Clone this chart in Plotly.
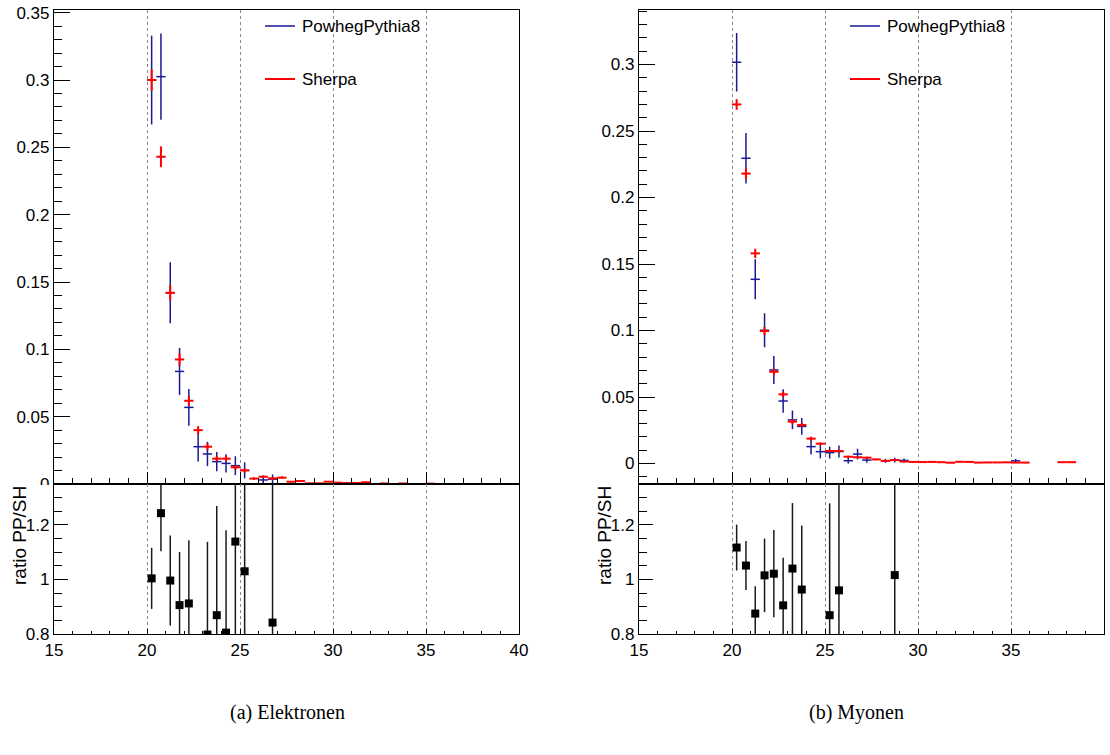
import plotly.graph_objects as go

W, H = 1110, 755

# ---------------- data: electrons (left) ----------------
el_x = [20.25, 20.75, 21.25, 21.75, 22.25, 22.75, 23.25, 23.75, 24.25, 24.75,
        25.25, 25.75, 26.25, 26.75, 27.25, 27.75, 28.25, 28.75, 29.25, 29.75,
        30.25, 30.75, 31.25, 31.75, 32.25, 32.75, 33.25, 33.75, 34.25, 34.75, 35.25]
el_sherpa = [0.300, 0.243, 0.142, 0.0925, 0.0618, 0.040, 0.0277, 0.0188, 0.0188, 0.0124,
             0.0101, 0.0040, 0.0054, 0.0042, 0.0047, 0.0017, 0.0022, 0.0005, 0.0005, 0.0017,
             0.0010, 0.0007, 0.0007, 0.0013, None, 0.0004, None, 0.0004, None, None, 0.0003]
el_sherpa_err = [0.008, 0.0077, 0.0058, 0.0045, 0.0035, 0.003, 0.0025, 0.002, 0.002, 0.0018,
                 0.0015, 0.001, 0.001, 0.001, 0.001, 0.0005, 0.0005, 0.0003, 0.0003, 0.0005,
                 0.0004, 0.0003, 0.0003, 0.0004, None, 0.0002, None, 0.0002, None, None, 0.0002]
el_powheg = [0.300, 0.3025, 0.142, 0.0836, 0.0569, 0.0277, 0.0223, 0.0166, 0.0153, 0.0136,
             0.0101, None, 0.003, 0.0036] + [None] * 17
el_powheg_err = [0.033, 0.032, 0.0227, 0.0175, 0.0137, 0.011, 0.009, 0.0072, 0.0068, 0.007,
                 0.006, None, 0.003, 0.0035] + [None] * 17

el_ratio_x = [20.25, 20.75, 21.25, 21.75, 22.25, 23.25, 23.75, 24.25, 24.75, 25.25, 26.75]
el_ratio = [1.004, 1.243, 0.996, 0.906, 0.912, 0.798, 0.869, 0.805, 1.139, 1.03, 0.842]
el_ratio_err = [0.112, 0.14, 0.165, 0.195, 0.232, 0.34, 0.40, 0.375, 0.5, 0.6, 0.75]

# ---------------- data: muons (right) ----------------
mu_x = [20.25 + 0.5 * i for i in range(37)]
mu_sherpa = [0.270, 0.218, 0.158, 0.0996, 0.069, 0.052, 0.0315, 0.029, 0.0187, 0.0149,
             0.0094, 0.0094, 0.0051, 0.0047, 0.0044, 0.0031, 0.0020, 0.0026, 0.0015, 0.0012,
             0.0011, 0.0012, 0.0010, 0.0006, 0.0013, 0.0012, 0.0007, 0.0008, 0.0008, 0.0009,
             0.0007, 0.0007, None, None, None, 0.0010, 0.0010]
mu_sherpa_err = [0.004, 0.004, 0.0035, 0.003, 0.0025, 0.002, 0.002, 0.0015, 0.0015, 0.001,
                 0.001, 0.001, 0.0008, 0.0008, 0.0007, 0.0006, 0.0005, 0.0005, 0.0004, 0.0003,
                 0.0003, 0.0003, 0.0003, 0.0002, 0.0003, 0.0003, 0.0002, 0.0002, 0.0002, 0.0002,
                 0.0002, 0.0002, None, None, None, 0.0002, 0.0002]
mu_powheg = [0.3017, 0.2295, 0.1385, 0.1002, 0.0703, 0.047, 0.0328, 0.0279, 0.0127, 0.0089,
             0.0082, 0.009, 0.0021, 0.0071, 0.0026, None, 0.0020, 0.0026, 0.0023, None,
             None, None, None, None, None, None, None, None, None, None,
             0.0020, None, None, None, None, None, None]
mu_powheg_err = [0.022, 0.019, 0.015, 0.0128, 0.0106, 0.0088, 0.007, 0.0063, 0.006, 0.005,
                 0.0045, 0.0045, 0.002, 0.004, 0.002, None, 0.0015, 0.0018, 0.0015, None,
                 None, None, None, None, None, None, None, None, None, None,
                 0.0015, None, None, None, None, None, None]

mu_ratio_x = [20.25, 20.75, 21.25, 21.75, 22.25, 22.75, 23.25, 23.75, 25.25, 25.75, 28.75]
mu_ratio = [1.117, 1.051, 0.875, 1.015, 1.021, 0.905, 1.04, 0.963, 0.869, 0.96, 1.016]
mu_ratio_err = [0.084, 0.09, 0.1, 0.135, 0.16, 0.175, 0.24, 0.235, 0.41, 0.55, 0.8]

half_bin = 0.25
BLUE = "rgb(25,25,150)"
RED = "rgb(255,0,0)"
FONT = "Liberation Sans, Arial, sans-serif"

fig = go.Figure()


def add_hist(x, y, err, color, thick, xa, ya):
    fig.add_trace(go.Scatter(
        x=x, y=y, mode="markers", xaxis=xa, yaxis=ya, showlegend=False,
        marker=dict(size=1, color="rgba(0,0,0,0)", line=dict(width=0)),
        error_x=dict(type="constant", value=half_bin, color=color, thickness=thick, width=0),
        error_y=dict(type="data", array=err, color=color, thickness=thick, width=0),
        cliponaxis=True,
    ))


def add_ratio(x, y, err, xa, ya):
    fig.add_trace(go.Scatter(
        x=x, y=y, mode="markers", xaxis=xa, yaxis=ya, showlegend=False,
        marker=dict(symbol="square", size=8, color="black"),
        error_y=dict(type="data", array=err, color="#1a1a1a", thickness=1.5, width=0),
        cliponaxis=True,
    ))


add_hist(el_x, el_powheg, el_powheg_err, BLUE, 1.5, "x", "y")
add_hist(el_x, el_sherpa, el_sherpa_err, RED, 2, "x", "y")
add_ratio(el_ratio_x, el_ratio, el_ratio_err, "x2", "y2")
add_hist(mu_x, mu_powheg, mu_powheg_err, BLUE, 1.5, "x3", "y3")
add_hist(mu_x, mu_sherpa, mu_sherpa_err, RED, 2, "x3", "y3")
add_ratio(mu_ratio_x, mu_ratio, mu_ratio_err, "x4", "y4")


def py(pix):
    return 1 - pix / H


def px(pix):
    return pix / W


L_dom = [px(54), px(519)]
R_dom = [px(639), px(1104)]
main_dom = [py(484), py(10)]
ratio_dom = [py(634), py(484)]

common_axis = dict(showline=True, linecolor="black", linewidth=1.2, mirror=True,
                   zeroline=False, tickcolor="black", automargin=False,
                   tickfont=dict(family=FONT, size=17, color="black"))


def xmain(anchor, dom):
    return dict(common_axis, domain=dom, anchor=anchor, range=[15, 40],
                showticklabels=False, ticks="inside", ticklen=12, tickwidth=1.2,
                tick0=15, dtick=5, showgrid=True, griddash="dot",
                gridcolor="#888888", gridwidth=1,
                minor=dict(ticks="inside", ticklen=6, dtick=1, tickcolor="black",
                           showgrid=False))


def xratio(anchor, dom):
    return dict(common_axis, domain=dom, anchor=anchor, range=[15, 40],
                showticklabels=True, ticks="inside", ticklen=5, tickwidth=1.2,
                tick0=15, dtick=5, showgrid=True, griddash="dot",
                gridcolor="#888888", gridwidth=1,
                minor=dict(ticks="inside", ticklen=3, dtick=1, tickcolor="black",
                           showgrid=False))


def ymain(anchor, rng):
    return dict(common_axis, domain=main_dom, anchor=anchor, range=rng,
                ticks="inside", ticklen=16, tickwidth=1.2, tick0=0, dtick=0.05,
                showgrid=False,
                minor=dict(ticks="inside", ticklen=8, dtick=0.01, tickcolor="black",
                           showgrid=False))


def yratio(anchor):
    return dict(common_axis, domain=ratio_dom, anchor=anchor, range=[0.8, 1.35],
                ticks="inside", ticklen=14, tickwidth=1.2, tick0=0.8, dtick=0.2,
                showgrid=False,
                minor=dict(ticks="inside", ticklen=8, dtick=0.05, tickcolor="black",
                           showgrid=False))


fig.update_layout(
    width=W, height=H,
    margin=dict(l=0, r=0, t=0, b=0, pad=0, autoexpand=False),
    paper_bgcolor="white", plot_bgcolor="white", showlegend=False,
    font=dict(family=FONT, color="black"),
    xaxis=xmain("y", L_dom), yaxis=ymain("x", [0, 0.352]),
    xaxis2=xratio("y2", L_dom), yaxis2=yratio("x2"),
    xaxis3=xmain("y3", R_dom), yaxis3=ymain("x3", [-0.0154, 0.341]),
    xaxis4=xratio("y4", R_dom), yaxis4=yratio("x4"),
)

shapes = []
annotations = []

# legends (line sample + text) in both panels
for offset in (0, 585):
    for ypix, color, label in ((26, BLUE, "PowhegPythia8"), (79, RED, "Sherpa")):
        shapes.append(dict(type="line", xref="paper", yref="paper",
                           x0=px(265 + offset), x1=px(295 + offset),
                           y0=py(ypix), y1=py(ypix),
                           line=dict(color=color, width=1.5 if color == BLUE else 2)))
        annotations.append(dict(xref="paper", yref="paper", x=px(300 + offset), y=py(ypix),
                                xanchor="left", yanchor="middle", showarrow=False,
                                text=label, font=dict(family=FONT, size=17, color="black")))

# ratio axis titles
for xpix in (19, 604):
    annotations.append(dict(xref="paper", yref="paper", x=px(xpix), y=py(536),
                            xanchor="center", yanchor="middle", showarrow=False,
                            textangle=-90, text="ratio PP/SH",
                            font=dict(family=FONT, size=19, color="black")))

# sub-captions
for xpix, label in ((287, "(a) Elektronen"), (856, "(b) Myonen")):
    annotations.append(dict(xref="paper", yref="paper", x=px(xpix), y=py(712),
                            xanchor="center", yanchor="middle", showarrow=False,
                            text=label,
                            font=dict(family="Liberation Serif, Times New Roman, serif",
                                      size=20, color="black")))

# the ratio pad hides the lower half of the left "0" tick label
shapes.append(dict(type="rect", xref="paper", yref="paper", layer="above",
                   x0=0, x1=px(50), y0=py(495), y1=py(485),
                   fillcolor="white", line=dict(width=0)))

fig.update_layout(shapes=shapes, annotations=annotations)

fig.write_html("out.html", post_script="document.body.style.margin='0';")
